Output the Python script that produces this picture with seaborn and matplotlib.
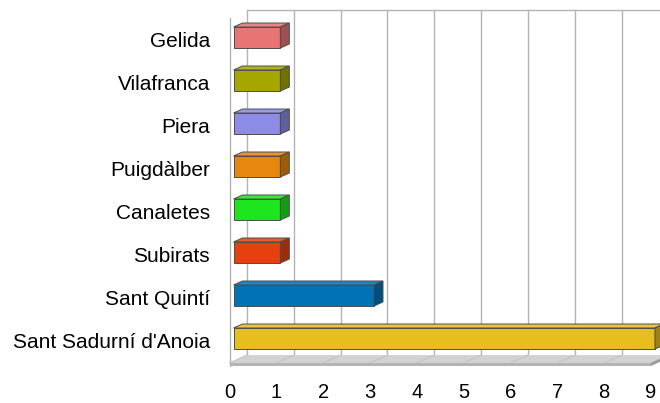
import numpy as np
import pandas as pd
import matplotlib
matplotlib.use("Agg")
import matplotlib.pyplot as plt
import seaborn as sns
from matplotlib.patches import Polygon
from matplotlib.colors import to_rgb

categories = ["Gelida", "Vilafranca", "Piera", "Puigdàlber", "Canaletes",
              "Subirats", "Sant Quintí", "Sant Sadurní d'Anoia"]
values = [1, 1, 1, 1, 1, 1, 3, 9]
colors = ["#E87474", "#A6A600", "#8C8CE6", "#E6870F", "#1EE61E",
          "#E6400E", "#0073B7", "#E6BE1E"]
xticks = list(range(10))

W, H = 660, 403
sns.set_theme(style="white")
plt.rcParams["font.family"] = ["Liberation Sans", "DejaVu Sans"]

fig = plt.figure(figsize=(W / 100, H / 100), dpi=100)
L, R, T, B = 229.5, 660.0, 18.0, 363.0
ax = fig.add_axes([L / W, 1 - B / H, (R - L) / W, (B - T) / H])
PX = 46.83   # pixels per value unit
PY = 43.0    # pixels per category
C0 = 39.5    # pixel y of first category (front plane)

df = pd.DataFrame({"cat": categories, "val": values})
sns.barplot(data=df, x="val", y="cat", hue="cat", palette=colors,
            hue_order=categories, order=categories,
            width=21 / PY, orient="h", saturation=1, legend=False,
            edgecolor="#4d4d4d", linewidth=0.7, ax=ax, zorder=3)

ax.set_xlim(0, (R - L) / PX)
ax.set_ylim((B - C0) / PY, (T - C0) / PY)
ylo, yhi = (B - C0) / PY, (T - C0) / PY

# depth of back wall
dxw, dyw = 17.5 / PX, 8 / PY
ytop_back = yhi - dyw
yfloor_back = ylo - dyw
xmax = max(xticks)

# back wall gridlines
for k in xticks:
    ax.plot([k + dxw, k + dxw], [ytop_back, yfloor_back], color="#b3b3b3",
            lw=1.0, zorder=0.5, clip_on=False)
ax.plot([dxw, (R - L) / PX], [ytop_back, ytop_back], color="#b3b3b3",
        lw=1.0, zorder=0.5, clip_on=False)
# left wall line
ax.plot([0, 0], [yhi, ylo + 3 / PY], color="#b3b3b3", lw=1.0,
        zorder=0.5, clip_on=False)

# floor
floor = Polygon([(0, ylo), (xmax, ylo), (xmax + dxw, ylo - dyw), (dxw, ylo - dyw)],
                closed=True, facecolor="#d2d2d2", edgecolor="none",
                zorder=1, clip_on=False)
ax.add_patch(floor)
for k in xticks:
    ax.plot([k + dxw, k], [ylo - dyw, ylo], color="#c4c4c4", lw=0.8,
            zorder=1.1, clip_on=False)
slab = Polygon([(0, ylo), (xmax, ylo), (xmax, ylo + 3 / PY), (0, ylo + 3 / PY)],
               closed=True, facecolor="#b4b4b4", edgecolor="none",
               zorder=1.2, clip_on=False)
ax.add_patch(slab)
slab_side = Polygon([(xmax, ylo), (xmax + dxw, ylo - dyw),
                     (xmax + dxw, ylo - dyw + 3 / PY), (xmax, ylo + 3 / PY)],
                    closed=True, facecolor="#9a9a9a", edgecolor="none",
                    zorder=1.2, clip_on=False)
ax.add_patch(slab_side)

# 3D bar faces
dxs, dys = 4 / PX, 2 / PY
dxb, dyb = 9 / PX, 4 / PY
bars = sorted([p for p in ax.patches if p not in (floor, slab, slab_side)],
              key=lambda p: p.get_y())
for p in bars:
    p.set_x(p.get_x() + dxs)
    p.set_y(p.get_y() - dys)
    base = np.array(to_rgb(p.get_facecolor()))
    x0 = p.get_x()
    x1 = x0 + p.get_width()
    y0 = p.get_y()
    y1 = y0 + p.get_height()
    top_c = base + (1 - base) * 0.12
    side_c = base * 0.68
    ax.add_patch(Polygon([(x0, y0), (x1, y0), (x1 + dxb, y0 - dyb), (x0 + dxb, y0 - dyb)],
                         closed=True, facecolor=top_c, edgecolor="#4d4d4d",
                         linewidth=0.7, zorder=3, clip_on=False))
    ax.add_patch(Polygon([(x1, y0), (x1 + dxb, y0 - dyb), (x1 + dxb, y1 - dyb), (x1, y1)],
                         closed=True, facecolor=side_c, edgecolor="#4d4d4d",
                         linewidth=0.7, zorder=3, clip_on=False))

ax.set_xticks(xticks)
ax.set_xticklabels([str(t) for t in xticks])
ax.set_xlabel("")
ax.set_ylabel("")
ax.tick_params(axis="both", length=0, colors="black")
ax.tick_params(axis="y", pad=14, labelsize=15)
ax.tick_params(axis="x", pad=14.5, labelsize=14.5)
for s in ax.spines.values():
    s.set_visible(False)
ax.patch.set_visible(False)
ax.grid(False)

fig.savefig("out.png", dpi=100)
